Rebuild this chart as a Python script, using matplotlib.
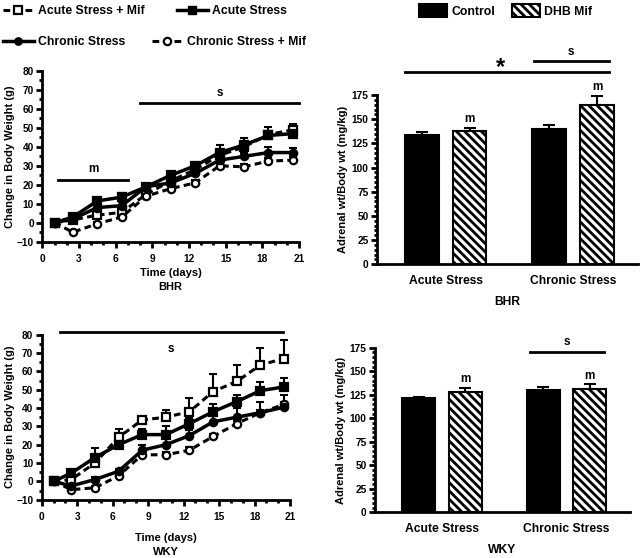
import matplotlib
matplotlib.use("Agg")
import matplotlib.pyplot as plt
from matplotlib.lines import Line2D
from matplotlib.patches import Patch
from matplotlib.ticker import MultipleLocator
import numpy as np

plt.rcParams['font.family'] = ['Liberation Sans', 'DejaVu Sans']
plt.rcParams['font.weight'] = 'bold'
plt.rcParams['axes.labelweight'] = 'bold'
plt.rcParams['hatch.linewidth'] = 2.0

# ---------------- data ----------------
days = [1, 2.5, 4.5, 6.5, 8.5, 10.5, 12.5, 14.5, 16.5, 18.5, 20.5]

bhr_acute = [0, 3, 11.5, 13.5, 19, 25, 30, 37, 41, 46, 47]
bhr_acute_err = [0, 1.5, 1.5, 2, 1.5, 2, 2, 4, 3.5, 4.5, 5]
bhr_acute_mif = [0, 1.5, 4, 5.5, 15, 22, 28, 35.5, 40, 46.5, 49]
bhr_acute_mif_err = [0, 1.5, 2, 2, 2, 2, 2, 2, 2, 2, 2]
bhr_chronic = [0, 2, 8, 9, 19, 21, 26, 33, 35, 37, 37]
bhr_chronic_err = [0, 1.5, 2, 2, 1.5, 1.5, 2, 2, 2, 3, 2.5]
bhr_chronic_mif = [0, -5, -0.5, 3, 14, 18, 21, 30, 29.5, 32.5, 33]
bhr_chronic_mif_err = [0, 1, 1, 1.5, 1.5, 1.5, 1.5, 1.5, 1.5, 1.5, 1.5]

wky_acute = [0, 4.5, 13, 20, 25.5, 25.5, 31.5, 38, 43.5, 49.5, 51.5]
wky_acute_err = [0, 1, 2, 2, 3, 4.5, 3, 4, 3.5, 4.5, 5]
wky_acute_mif = [0, 1, 10, 24, 33.5, 35, 38, 49, 54.5, 63.5, 67]
wky_acute_mif_err = [0, 1, 8, 4.5, 2, 4, 7.5, 9.5, 9, 9, 10]
wky_chronic = [0, -2.5, 1, 5.5, 17, 20, 25, 32.5, 35, 37.5, 40.5]
wky_chronic_err = [0, 1, 1.5, 1.5, 3, 3.5, 3, 3, 5, 6, 6.5]
wky_chronic_mif = [0, -4.5, -3.5, 3, 14.5, 14.5, 17, 24.5, 31.5, 37.5, 42]
wky_chronic_mif_err = [0, 1, 1, 1, 1.5, 1.5, 1.5, 1.5, 1.5, 1.5, 1.5]

groups = ["Acute Stress", "Chronic Stress"]
bhr_control = [134, 140]
bhr_control_err = [3, 4]
bhr_mif = [138, 165]
bhr_mif_err = [3, 9]
wky_control = [122, 130]
wky_control_err = [1, 3]
wky_mif = [128, 131]
wky_mif_err = [4, 5]

# ---------------- figure ----------------
W, H = 640, 558
fig = plt.figure(figsize=(W / 100, H / 100), dpi=100)


def px_axes(x0, y_top, x1, y_bot):
    return fig.add_axes([x0 / W, 1 - y_bot / H, (x1 - x0) / W, (y_bot - y_top) / H])


TICK_FS = 7.3
LAB_FS = 8
HATCH = '\\\\\\\\'


def style_axes(ax):
    for s in ['top', 'right']:
        ax.spines[s].set_visible(False)
    for s in ['left', 'bottom']:
        ax.spines[s].set_linewidth(2)
    ax.tick_params(which='major', length=4, width=2, labelsize=TICK_FS, pad=2)
    ax.tick_params(which='minor', length=2.5, width=2)
    for lab in ax.get_xticklabels() + ax.get_yticklabels():
        lab.set_fontweight('bold')


def line_series(ax, y, err, marker, mfc, dashed, ms):
    ls = (0, (2.2, 1.4)) if dashed else '-'
    lw = 2.2 if dashed else 2.5
    ax.errorbar(days, y, yerr=[np.zeros(len(err)), err], fmt='none', ecolor='black',
                elinewidth=1.5, capsize=3, capthick=1.5, zorder=2)
    ax.plot(days, y, linestyle=ls, linewidth=lw, color='black', marker=marker,
            markersize=ms, markerfacecolor=mfc, markeredgecolor='black',
            markeredgewidth=1.6, zorder=3)


def line_panel(ax):
    ax.set_xlim(0, 21)
    ax.set_ylim(-10, 80)
    ax.set_xticks(range(0, 22, 3))
    ax.set_yticks(range(-10, 81, 10))
    ax.xaxis.set_minor_locator(MultipleLocator(1))
    ax.yaxis.set_minor_locator(MultipleLocator(5))
    style_axes(ax)
    ax.tick_params(axis='x', which='major', pad=5)
    ax.set_ylabel("Change in Body Weight (g)", fontsize=LAB_FS, labelpad=1)


# ---- BHR line panel ----
ax1 = px_axes(42.3, 71, 299, 241.7)
line_panel(ax1)
line_series(ax1, bhr_acute_mif, bhr_acute_mif_err, 's', 'white', True, 6.3)
line_series(ax1, bhr_chronic_mif, bhr_chronic_mif_err, 'o', 'white', True, 5.3)
line_series(ax1, bhr_chronic, bhr_chronic_err, 'o', 'black', False, 5.3)
line_series(ax1, bhr_acute, bhr_acute_err, 's', 'black', False, 6.3)
ax1.plot([1.3, 7.0], [22.5, 22.5], color='black', lw=2, clip_on=False)
ax1.text(4.15, 25, "m", ha='center', va='bottom', fontsize=8.5, fontweight='bold')
ax1.plot([8.0, 21.0], [63, 63], color='black', lw=2, clip_on=False)
ax1.text(14.5, 65.5, "s", ha='center', va='bottom', fontsize=8.5, fontweight='bold')
ax1.set_xlabel("Time (days)\nBHR", fontsize=LAB_FS, labelpad=3, linespacing=1.5)

# ---- WKY line panel ----
ax2 = px_axes(41.7, 334.7, 290, 499.7)
line_panel(ax2)
line_series(ax2, wky_acute_mif, wky_acute_mif_err, 's', 'white', True, 6.3)
line_series(ax2, wky_chronic_mif, wky_chronic_mif_err, 'o', 'white', True, 5.3)
line_series(ax2, wky_chronic, wky_chronic_err, 'o', 'black', False, 5.3)
line_series(ax2, wky_acute, wky_acute_err, 's', 'black', False, 6.3)
ax2.plot([1.55, 20.4], [81.6, 81.6], color='black', lw=2, clip_on=False)
ax2.text(10.9, 69, "s", ha='center', va='bottom', fontsize=8.5, fontweight='bold')
ax2.set_xlabel("Time (days)\nWKY", fontsize=LAB_FS, labelpad=8, linespacing=1.5)

# ---- bar panels ----
xpos = np.arange(len(groups))
bw = 0.265
off = 0.1875


def bar_panel(ax, ctrl, ctrl_err, mif, mif_err, name):
    ax.bar(xpos - off, ctrl, width=bw, color='black', edgecolor='black', linewidth=1.5, zorder=2)
    ax.bar(xpos + off, mif, width=bw, color='white', edgecolor='black', linewidth=1.5,
           hatch=HATCH, zorder=2)
    ax.errorbar(xpos - off, ctrl, yerr=[np.zeros(len(ctrl)), ctrl_err], fmt='none',
                ecolor='black', elinewidth=1.5, capsize=4, capthick=1.5, zorder=1)
    ax.errorbar(xpos + off, mif, yerr=[np.zeros(len(mif)), mif_err], fmt='none',
                ecolor='black', elinewidth=1.5, capsize=4, capthick=1.5, zorder=1)
    ax.set_xlim(-0.54, 1.51)
    ax.set_ylim(0, 175)
    ax.set_yticks(range(0, 176, 25))
    ax.yaxis.set_minor_locator(MultipleLocator(5))
    ax.set_xticks(xpos)
    ax.set_xticklabels(groups)
    style_axes(ax)
    ax.tick_params(axis='x', length=0, pad=8, labelsize=8.7)
    ax.set_ylabel("Adrenal wt/Body wt (mg/kg)", fontsize=LAB_FS, labelpad=3)
    ax.set_xlabel(name, fontsize=8.7, labelpad=6)
    for i in range(len(groups)):
        ax.text(xpos[i] + off, mif[i] + mif_err[i] + 3, "m", ha='center', va='bottom',
                fontsize=8.5, fontweight='bold')


ax3 = px_axes(377, 95, 638, 264.3)
bar_panel(ax3, bhr_control, bhr_control_err, bhr_mif, bhr_mif_err, "BHR")
ax3.plot([-0.32, 1.28], [199, 199], color='black', lw=2, clip_on=False)
ax3.text(0.43, 192, "*", ha='center', va='bottom', fontsize=17, fontweight='bold')
ax3.plot([0.69, 1.28], [210, 210], color='black', lw=2, clip_on=False)
ax3.text(0.985, 213, "s", ha='center', va='bottom', fontsize=8.5, fontweight='bold')

ax4 = px_axes(375, 347.7, 630, 512.3)
bar_panel(ax4, wky_control, wky_control_err, wky_mif, wky_mif_err, "WKY")
ax4.plot([0.71, 1.30], [170.8, 170.8], color='black', lw=2, clip_on=False)
ax4.text(1.005, 175, "s", ha='center', va='bottom', fontsize=8.5, fontweight='bold')

# ---- legends (one entry each, placed at reference positions) ----
LEG_FS = 8.8


def add_leg(handle, label, x_px, y_px, hl=2.5, hh=0.7):
    fig.legend([handle], [label], loc='center left',
               bbox_to_anchor=(x_px / W, 1 - y_px / H), frameon=False,
               handlelength=hl, handleheight=hh,
               handletextpad=0.35, borderpad=0, borderaxespad=0,
               prop={'weight': 'bold', 'size': LEG_FS})


h_am = Line2D([], [], color='black', lw=2.2, ls=(0, (2.2, 1.4)), marker='s', ms=6.3,
              mfc='white', mec='black', mew=1.6)
h_a = Line2D([], [], color='black', lw=2.5, marker='s', ms=6.3, mfc='black', mec='black')
h_c = Line2D([], [], color='black', lw=2.5, marker='o', ms=5.3, mfc='black', mec='black')
h_cm = Line2D([], [], color='black', lw=2.2, ls=(0, (2.2, 1.4)), marker='o', ms=5.3,
              mfc='white', mec='black', mew=1.6)
add_leg(h_am, "Acute Stress + Mif", 3, 11)
add_leg(h_a, "Acute Stress", 177, 11)
add_leg(h_c, "Chronic Stress", 3, 42)
add_leg(h_cm, "Chronic Stress + Mif", 152, 42)
add_leg(Patch(facecolor='black', edgecolor='black', lw=1.5), "Control", 419, 11, hl=2.3, hh=1.3)
add_leg(Patch(facecolor='white', edgecolor='black', lw=1.5, hatch=HATCH), "DHB Mif", 512, 11,
        hl=2.3, hh=1.3)

fig.savefig("out.png", dpi=100)
